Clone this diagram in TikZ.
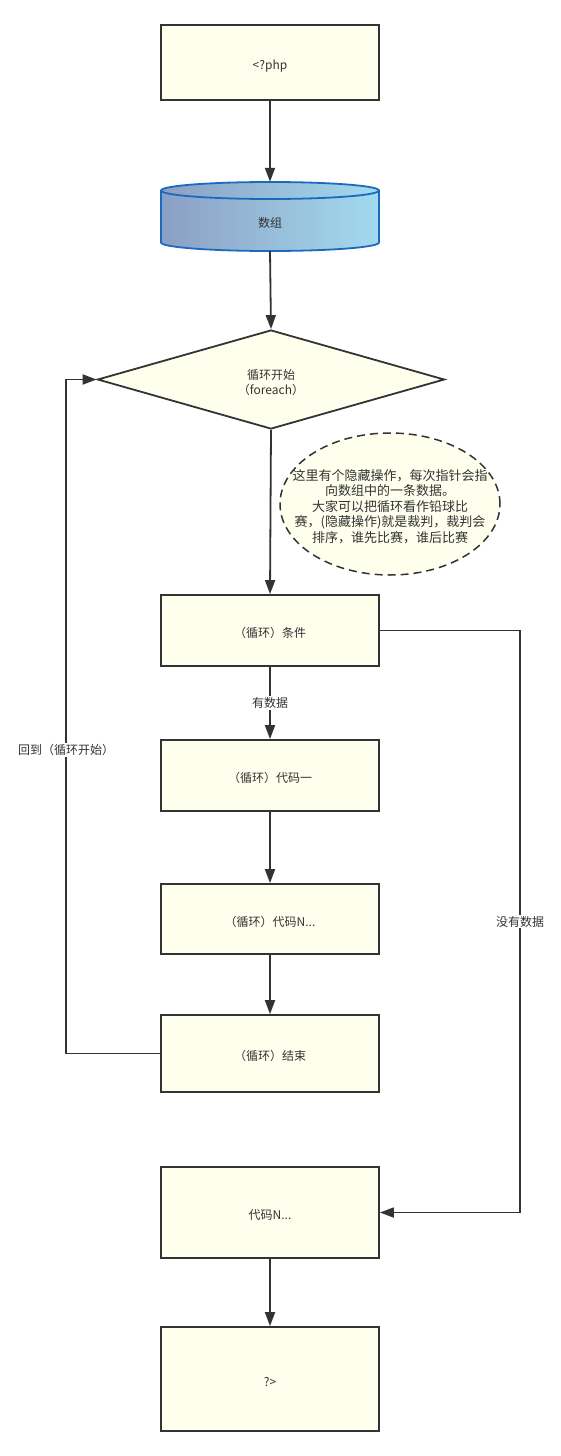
\documentclass[tikz,border=0pt]{standalone}
\usepackage{fontspec}
\setmainfont{Noto Sans CJK SC}
\usetikzlibrary{shapes.geometric,arrows.meta}
\definecolor{boxfill}{HTML}{FFFFEE}
\definecolor{ink}{HTML}{333333}
\definecolor{cylA}{HTML}{8C9FC4}
\definecolor{cylB}{HTML}{A2DAEE}
\definecolor{cylline}{HTML}{1A6BC0}
\begin{document}
\begin{tikzpicture}[x=1pt,y=-1pt,
  every node/.style={text=ink,font=\fontsize{12}{15}\selectfont},
  stepbox/.style={draw=ink,line width=1.8pt,fill=boxfill,minimum width=218pt,inner sep=0pt,text height=14pt,text depth=0pt},
  conn/.style={draw=ink,line width=1.8pt,-{Triangle[length=14pt,width=10pt]}},
  lbl/.style={fill=white,inner sep=1pt}]
\useasboundingbox (0,0) rectangle (560,1456);

\node[stepbox,minimum height=75pt] (php) at (270,62.5) {<?php};

% cylinder
\node[minimum width=218pt,minimum height=69pt,inner sep=0pt] (arr) at (270,216.5) {};
\shade[left color=cylA,right color=cylB]
  (161,190.5) -- (161,242.5) arc[start angle=180,end angle=360,x radius=109,y radius=-8.5]
  -- (379,190.5) arc[start angle=0,end angle=180,x radius=109,y radius=-8.5] -- cycle;
\draw[cylline,line width=1.8pt]
  (161,190.5) -- (161,242.5) arc[start angle=180,end angle=360,x radius=109,y radius=-8.5]
  -- (379,190.5);
\draw[cylline,line width=1.8pt] (270,190.5) ellipse[x radius=109,y radius=8.5];
\node[yshift=-6pt] (arrtext) at (arr.center) {数组};

\node[diamond,draw=ink,line width=1.8pt,fill=boxfill,minimum width=347pt,minimum height=99pt,inner sep=0pt] (loop) at (271,379.5) {};
\node[align=center,yshift=-3.5pt] (looptext) at (loop.center) {循环开始\\（foreach）};

\node[ellipse,draw=ink,line width=1.5pt,dash pattern=on 8pt off 5pt,fill=boxfill,minimum width=220pt,minimum height=142pt,inner sep=0pt] (note) at (390,504) {};
\node[align=center,font=\fontsize{13}{15.5}\selectfont,yshift=-2.5pt] (notetext) at (note.center) {这里有个隐藏操作，每次指针会指\\向数组中的一条数据。\\大家可以把循环看作铅球比\\赛，(隐藏操作)就是裁判，裁判会\\排序，谁先比赛，谁后比赛};

\node[stepbox,minimum height=71pt] (cond) at (270,630.5) {（循环）条件};
\node[stepbox,minimum height=71pt] (code1) at (270,775.5) {（循环）代码一};
\node[stepbox,minimum height=70pt] (codeN) at (270,919) {（循环）代码N...};
\node[stepbox,minimum height=77pt] (lend) at (270,1053.5) {（循环）结束};
\node[stepbox,minimum height=91pt] (after) at (270,1212.5) {代码N...};
\node[stepbox,minimum height=104pt] (close) at (270,1379) {?>};

\coordinate (backB) at (66,1053.5);
\coordinate (backT) at (66,379.5);
\coordinate (skipT) at (520,630.5);
\coordinate (skipB) at (520,1212.5);

\draw[conn] (php.south) -- (arr.north);
\draw[conn] (arr.south) -- (loop.north);
\draw[conn] (loop.south) -- (cond.north);
\draw[conn] (cond.south) -- node[lbl] (yes) {有数据} (code1.north);
\draw[conn] (code1.south) -- (codeN.north);
\draw[conn] (codeN.south) -- (lend.north);
\draw[conn] (lend.west) -- (backB) -- node[lbl,pos=0.45] (back) {回到（循环开始）} (backT) -- (loop.west);
\draw[conn] (cond.east) -- (skipT) -- node[lbl,pos=0.5] (no) {没有数据} (skipB) -- (after.east);
\draw[conn] (after.south) -- (close.north);
\end{tikzpicture}
\end{document}
